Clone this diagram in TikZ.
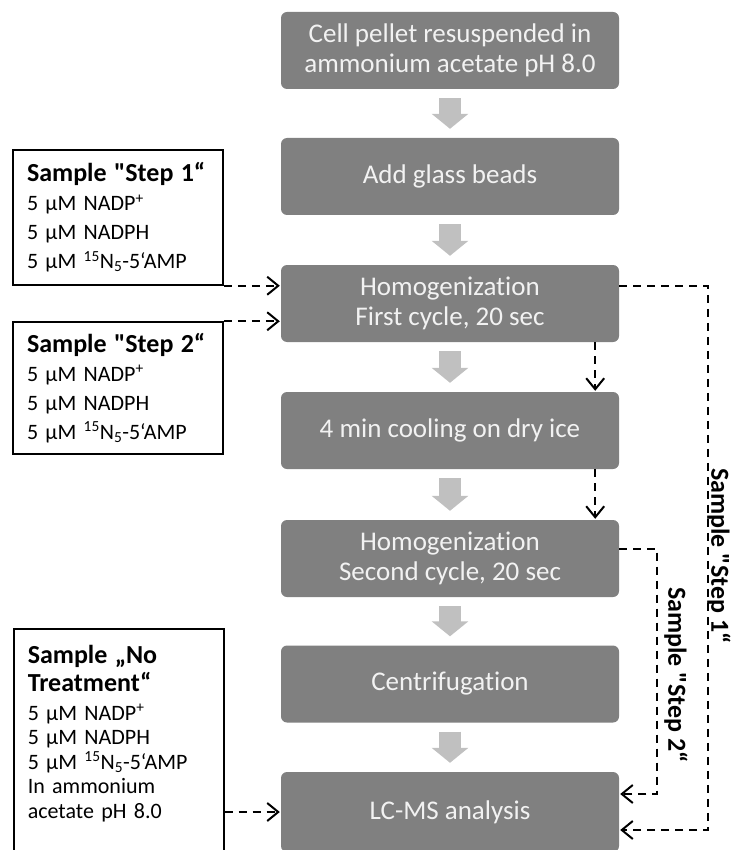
\documentclass[tikz,border=0pt]{standalone}
\usepackage{fontspec}
\setmainfont{Carlito}[Ligatures={TeXOff,NoCommon}]
\usetikzlibrary{arrows.meta,positioning}
\definecolor{boxgray}{RGB}{128,128,128}
\definecolor{arrgray}{RGB}{192,192,192}
\definecolor{txtgray}{RGB}{242,242,242}
\begin{document}
\begin{tikzpicture}[x=1pt, y=-1pt,
  step node/.style={rectangle, rounded corners=6pt, fill=boxgray, text=txtgray, minimum width=338pt, minimum height=77pt, align=center, inner sep=0pt, font=\fontsize{27}{30}\selectfont},
  sample node/.style={rectangle, draw=black, line width=1.5pt, text width=182pt, inner xsep=14pt, align=left, font=\fontsize{22}{29}\selectfont},
  flow/.style={draw=black, line width=2pt, dash pattern=on 8pt off 6pt, -{Straight Barb[length=11pt,width=18pt]}, shorten >=1pt},
  block/.style={draw=arrgray, line width=22pt, -{Triangle[length=15pt,width=36pt]}, shorten <=9pt, shorten >=9pt},
  side label/.style={rotate=-90, font=\bfseries\fontsize{26}{28}\selectfont}]
\useasboundingbox (0,0) rectangle (734,850);
\clip (0,0) rectangle (734,850);
\newcommand{\ttl}[1]{{\bfseries\fontsize{26}{28}\selectfont #1}}
\begin{scope}[every node/.style={step node}]
\node (b1) at (450,50.5) {Cell pellet resuspended in\\ammonium acetate pH 8.0};
\node (b2) at (450,176.5) {Add glass beads};
\node (h1) at (450,303.5) {Homogenization\\First cycle, 20 sec};
\node (cool) at (450,430.5) {4 min cooling on dry ice};
\node (h2) at (450,558.5) {Homogenization\\Second cycle, 20 sec};
\node (cent) at (450,684) {Centrifugation};
\node[minimum height=80pt] (lcms) at (450,812) {LC-MS analysis};
\end{scope}
\begin{scope}[every node/.style={sample node}]
\node[minimum height=135pt] (s1) at (118,217.5) {\ttl{Sample "Step 1“}\\5 µM NADP\textsuperscript{+}\\5 µM NADPH\\5 µM \textsuperscript{15}N\textsubscript{5}-5‘AMP};
\node[minimum height=132pt] (s2) at (118,388) {\ttl{Sample "Step 2“}\\5 µM NADP\textsuperscript{+}\\5 µM NADPH\\5 µM \textsuperscript{15}N\textsubscript{5}-5‘AMP};
\node[anchor=north west, inner ysep=16pt, text depth=215pt, font=\fontsize{22}{24.5}\selectfont] (s3) at (13,628) {\ttl{Sample „No}\\[4pt]\ttl{Treatment“}\\[4pt]5 µM NADP\textsuperscript{+}\\5 µM NADPH\\5 µM \textsuperscript{15}N\textsubscript{5}-5‘AMP\\In ammonium\\acetate pH 8.0};
\end{scope}
\node[side label] (l1) at (719,556) {Sample "Step 1“};
\node[side label] (l2) at (676,675) {Sample "Step 2“};
\coordinate (r1) at (708,0);
\coordinate (r2) at (657,0);
\begin{scope}[every edge/.style={block}]
\draw (b1) edge (b2);
\draw (b2) edge (h1);
\draw (h1) edge (cool);
\draw (cool) edge (h2);
\draw (h2) edge (cent);
\draw (cent) edge (lcms);
\end{scope}
\draw[flow] (s1.south east) -- (s1.south east -| h1.west);
\draw[flow] (s2.north east) -- (s2.north east -| h1.west);
\draw[flow] (lcms.west -| s3.east) -- (lcms.west);
\draw[flow] ([xshift=-24pt]h1.south east) -- ([xshift=-24pt]cool.north east);
\draw[flow] ([xshift=-24pt]cool.south east) -- ([xshift=-24pt]h2.north east);
\draw[flow] (s1.south east -| h1.east) -- (s1.south east -| r1) |- ([yshift=-18pt]lcms.east);
\draw[flow] ([yshift=10pt]h2.east) -- ([yshift=10pt]h2.east -| r2) |- ([yshift=18pt]lcms.east);
\end{tikzpicture}
\end{document}
